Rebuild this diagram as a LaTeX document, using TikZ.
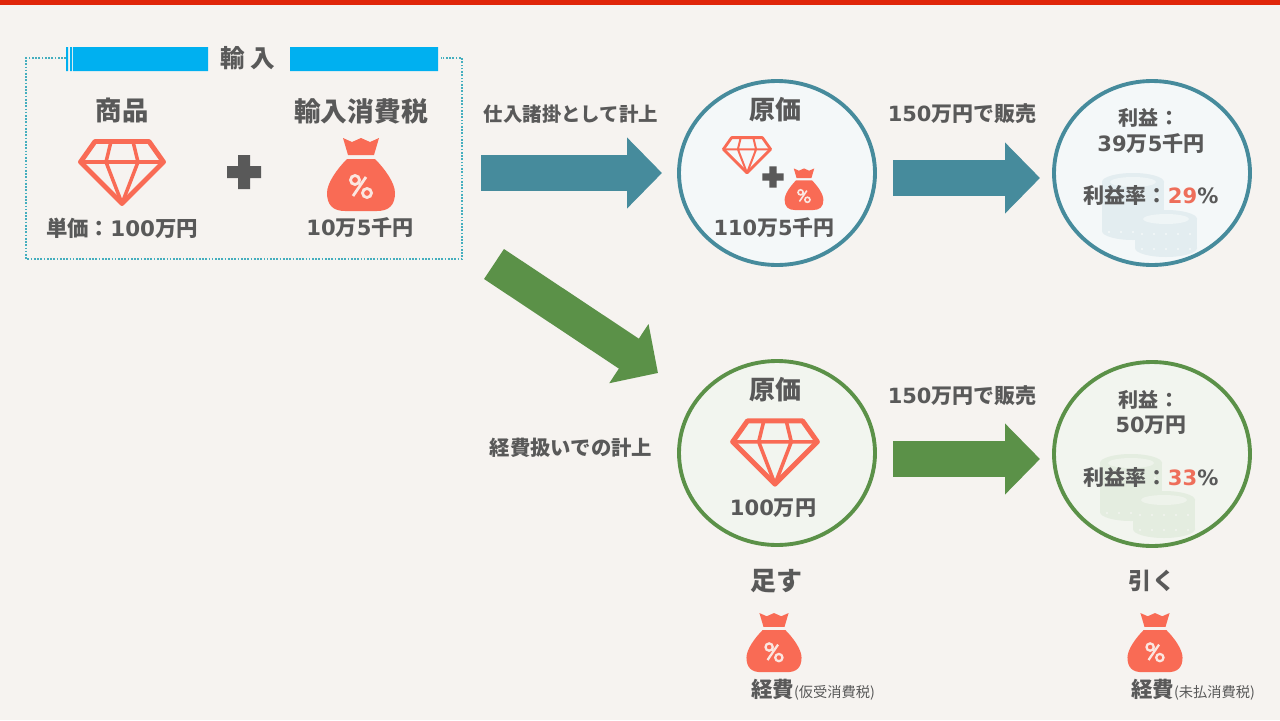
\documentclass[tikz,border=0pt]{standalone}
\usepackage{fontspec}
\setmainfont{Noto Sans CJK JP}
\newfontfamily\nmfont{DejaVu Sans}
\usetikzlibrary{arrows.meta,shapes.geometric}
\newcommand{\nm}[1]{{\nmfont\bfseries #1}}
\definecolor{bgc}{HTML}{F6F3F0}
\definecolor{redbar}{HTML}{E0260A}
\definecolor{tealc}{HTML}{468B9C}
\definecolor{tealf}{HTML}{F4F8F9}
\definecolor{tealcoin}{HTML}{E3EDF0}
\definecolor{tealtop}{HTML}{EFF5F6}
\definecolor{greenc}{HTML}{5B9148}
\definecolor{greenf}{HTML}{F2F5EF}
\definecolor{greencoin}{HTML}{E4EDE0}
\definecolor{greentop}{HTML}{EEF3EB}
\definecolor{coral}{HTML}{F96B55}
\definecolor{ratec}{HTML}{EE6E5A}
\definecolor{txt}{HTML}{595959}
\definecolor{sky}{HTML}{00B0F0}
\definecolor{dotc}{HTML}{45AEBE}
\definecolor{pct}{HTML}{FBE6E0}
\tikzset{
  x=.05cm,y=-.05cm,
  lbl/.style={inner sep=0pt,text=txt,font=\bfseries\fontsize{#1}{#1}\selectfont},
  lbl/.default=29pt,
  fatarrow/.style={draw=#1,line width=1.8cm,-{Triangle[length=1.75cm,width=3.45cm]},shorten >=0pt},
  circ/.style 2 args={draw=#1,fill=#2,line width=5.5pt,ellipse,minimum width=9.8cm,minimum height=9.2cm,inner sep=0pt},
}
\newcommand{\gem}[3]{\begin{scope}[shift={(#1,#2)},scale=#3]
  \draw[coral,line width=#3*7pt,line join=round]
    (-27,-30.5) -- (27,-30.5) -- (41.5,-10) -- (0,31.5) -- (-41.5,-10) -- cycle;
  \draw[coral,line width=#3*5pt,line join=round]
    (-41.5,-10) -- (41.5,-10)
    (-11,-30.5) -- (-16,-10) -- (0,31.5) -- (16,-10) -- (11,-30.5);
\end{scope}}
\newcommand{\bag}[3]{\begin{scope}[shift={(#1,#2)},scale=#3]
  \fill[coral] (-18,-37) -- (-9,-33) -- (0,-37) -- (9,-33) -- (18,-37) -- (13,-20) -- (-13,-20) -- cycle;
  \fill[coral] (-14,-16) -- (14,-16) .. controls (24,-6) and (34,8) .. (34,18)
    .. controls (34,30) and (28,36) .. (16,36) -- (-16,36)
    .. controls (-28,36) and (-34,30) .. (-34,18) .. controls (-34,8) and (-24,-6) .. (-14,-16) -- cycle;
  \draw[pct,line width=#3*4pt] (-6,5) circle[radius=4.5] (6,18) circle[radius=4.5] (5,2) -- (-8,21);
\end{scope}}
\newcommand{\plusmark}[3]{\begin{scope}[shift={(#1,#2)},scale=#3]
  \fill[txt] (-17,-6) rectangle (17,6) (-6,-17) rectangle (6,17);
\end{scope}}
\newcommand{\coinstack}[5]{\begin{scope}[shift={(#1,#2)}]
  \foreach \cx/\ct/\cb in {-17/-33/16,16/4/33}{
    \fill[#3] (\cx-31,\ct) rectangle (\cx+31,\cb);
    \fill[#3] (\cx,\cb) ellipse[x radius=31,y radius=9];
    \fill[#3] (\cx,\ct) ellipse[x radius=31,y radius=9];
    \fill[#5] (\cx,\ct) ellipse[x radius=23,y radius=5];
    \foreach \a in {-24,-12,0,12,24}{
      \fill[#4] (\cx+\a,\ct+15) circle[radius=1.2];
      \fill[#4] (\cx+\a,\cb+1) circle[radius=1.2];
    }
  }
\end{scope}}
\begin{document}
\begin{tikzpicture}
\useasboundingbox (0,0) rectangle (1280,720);
\fill[bgc] (0,0) rectangle (1280,720);
\fill[redbar] (0,0) rectangle (1280,5);
% import box
\draw[dotc,line width=2.6pt,dash pattern=on 2.4pt off 2.2pt] (66,58) -- (26,58) -- (26,259) -- (462,259) -- (462,58) -- (441,58);
\fill[sky] (66,47) rectangle (68,71) (70,47) rectangle (72,71) (73,47) rectangle (208,71) (290,47) rectangle (438,71);
\node[lbl=35pt] (ttl) at (247.5,58) {輸\hspace{8pt}入};
\node[lbl=37.5pt] (goods) at (122,110) {商品};
\node[lbl=38pt] (tax) at (361,111) {輸入消費税};
\gem{122}{172}{1}
\plusmark{244}{172}{1}
\bag{361}{175}{1}
\node[lbl=30.5pt] (price) at (122,228) {単価：\nm{100}万円};
\node[lbl=30pt] (taxv) at (360,228) {\nm{10}万\nm{5}千円};
% arrows
\coordinate (a1s) at (481,173); \coordinate (a1e) at (662,173);
\coordinate (a2s) at (893,178); \coordinate (a2e) at (1040,178);
\coordinate (a3s) at (494,264); \coordinate (a3e) at (658,373);
\coordinate (a4s) at (893,459); \coordinate (a4e) at (1040,459);
\draw[fatarrow=tealc] (a1s) -- (a1e);
\draw[fatarrow=tealc] (a2s) -- (a2e);
\draw[fatarrow=greenc] (a3s) -- (a3e);
\draw[fatarrow=greenc] (a4s) -- (a4e);
\node[lbl=27.6pt] (l1) at (571,114) {仕入諸掛として計上};
\node[lbl=29pt] (l2) at (571,448) {経費扱いでの計上};
% circles
\node[circ={tealc}{tealf}] (c1) at (777,173) {};
\node[circ={tealc}{tealf}] (c2) at (1152,173) {};
\node[circ={greenc}{greenf}] (c3) at (777,453) {};
\node[circ={greenc}{greenf}] (c4) at (1152,454) {};
% teal cost
\node[lbl=37pt] (g1) at (775,110) {原価};
\gem{747}{155}{.57}
\plusmark{773}{177}{.62}
\bag{804}{189.5}{.57}
\node[lbl=29.7pt] (g1v) at (774,228) {\nm{110}万\nm{5}千円};
\node[lbl=29.8pt] (s1) at (962,114) {\nm{150}万円で販売};
\coinstack{1150}{215}{tealcoin}{tealf}{tealtop}
\node[lbl=28.5pt] (p1) at (1149,118) {利益：};
\node[lbl=30pt] (p1v) at (1151,144) {\nm{39}万\nm{5}千円};
\node[lbl=30pt] (r1) at (1151,195) {利益率：\nm{\textcolor{ratec}{29}\%}};
% green cost
\node[lbl=37pt] (g2) at (775,390) {原価};
\gem{775}{452}{1.02}
\node[lbl=30pt] (g2v) at (773,508) {\nm{100}万円};
\node[lbl=29.8pt] (s2) at (962,396) {\nm{150}万円で販売};
\coinstack{1148}{496}{greencoin}{greenf}{greentop}
\node[lbl=28.5pt] (p2) at (1149,400) {利益：};
\node[lbl=29.7pt] (p2v) at (1151,425) {\nm{50}万円};
\node[lbl=30pt] (r2) at (1151,477) {利益率：\nm{\textcolor{ratec}{33}\%}};
% bottom
\node[lbl=37pt] (add) at (776,581) {足す};
\node[lbl=33pt] (sub) at (1152,581) {引く};
\bag{774}{643}{.81}
\bag{1155}{643}{.81}
\node[lbl=30.5pt,anchor=west] (e1) at (751,690) {経費{\mdseries\fontsize{20.3pt}{20.3pt}\selectfont(仮受消費税)}};
\node[lbl=30.5pt,anchor=west] (e2) at (1131,690) {経費{\mdseries\fontsize{20.3pt}{20.3pt}\selectfont(未払消費税)}};
\end{tikzpicture}
\end{document}
